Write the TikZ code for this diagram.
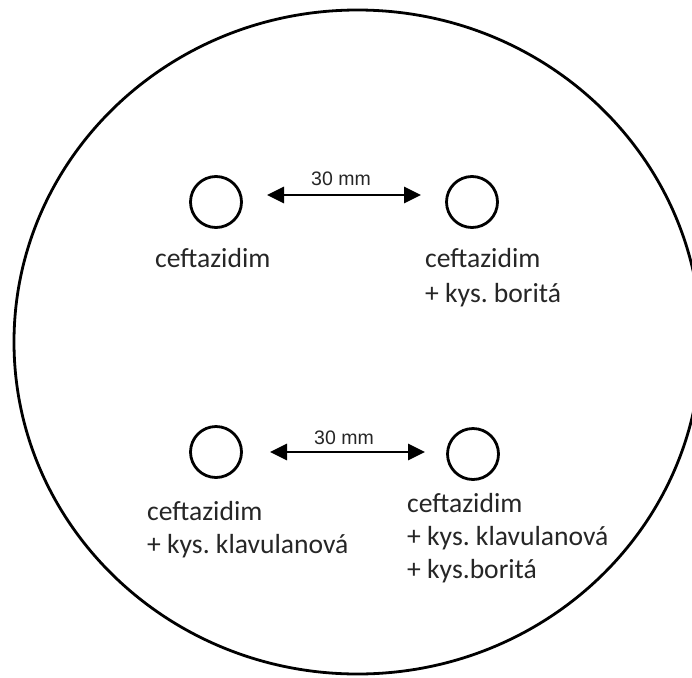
\documentclass[tikz,border=0pt]{standalone}
\usepackage{fontspec}
\setmainfont{Carlito}
\newfontfamily\arialf{Liberation Sans}
\usetikzlibrary{arrows.meta}
\frenchspacing
\begin{document}
\begin{tikzpicture}[x=1pt,y=-1pt,
  disc/.style={circle,draw=black,line width=2.8pt,minimum size=51pt,inner sep=0pt},
  dist/.style={line width=2.8pt,{Triangle[length=17pt,width=16pt]}-{Triangle[length=17pt,width=16pt]}},
  distlabel/.style={font=\arialf\fontsize{19.5}{19.5}\selectfont,text=black!85,inner sep=0pt,anchor=base},
  lab/.style={anchor=base west,inner sep=0pt,align=left,text=black!85}]
\useasboundingbox (0,0) rectangle (692,677);
\clip (0,0) rectangle (692,677);
\fill[white] (0,0) rectangle (692,677);
% plate
\draw[line width=2.8pt] (357.5,342) ellipse [x radius=343.5, y radius=332];
% discs
\node[disc] (tl) at (216,202) {};
\node[disc] (tr) at (472,202) {};
\node[disc] (bl) at (216,452) {};
\node[disc] (br) at (473,454) {};
% arrows
\coordinate (ta) at (267,195);
\coordinate (tb) at (421,195);
\coordinate (ba) at (270,452);
\coordinate (bb) at (425,452);
\draw[dist] (ta) -- (tb);
\draw[dist] (ba) -- (bb);
\node[distlabel] (tlab) at (341,185) {30 mm};
\node[distlabel] (blab) at (344,444) {30 mm};
% labels (base = baseline of last line)
\node[lab,font=\fontsize{27.6}{35}\selectfont] (ltl) at (155,267) {ceftazidim};
\node[lab,font=\fontsize{27.6}{35}\selectfont] (ltr) at (425,302) {ceftazidim\\+ kys. boritá};
\node[lab,font=\fontsize{27.6}{33}\selectfont] (lbl) at (147,553) {ceftazidim\\+ kys. klavulanová};
\node[lab,font=\fontsize{27.6}{33}\selectfont] (lbr) at (407,578) {ceftazidim\\+ kys. klavulanová\\+ kys.boritá};
\end{tikzpicture}
\end{document}
